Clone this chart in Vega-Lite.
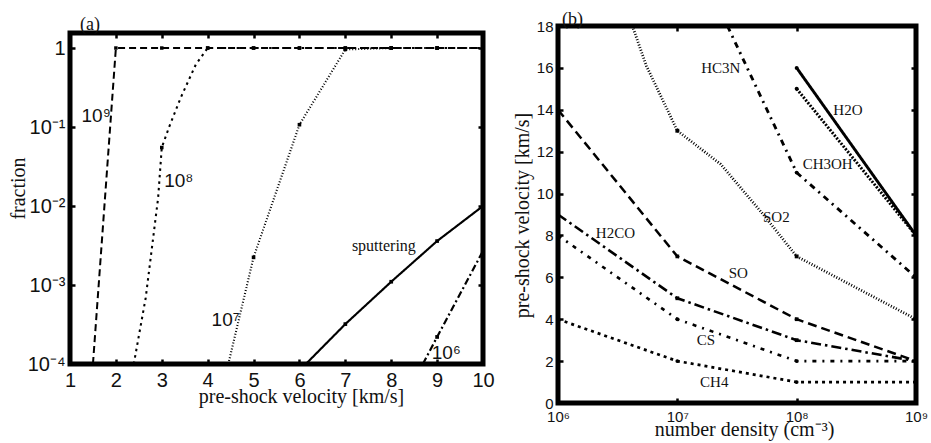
{
  "$schema": "https://vega.github.io/schema/vega-lite/v6.json",
  "padding": {"left": 8, "top": 8, "right": 0, "bottom": 0},
  "spacing": 14,
  "resolve": {"scale": {"strokeDash": "independent", "strokeWidth": "independent", "size": "independent", "shape": "independent"}},
  "config": {
    "view": {"stroke": "#000", "strokeWidth": 5},
    "axis": {"grid": false, "domain": false, "tickColor": "#000", "tickSize": -5, "tickWidth": 2.5, "labelColor": "#111", "titleColor": "#111", "labelFont": "Liberation Sans", "titleFont": "Liberation Serif", "titleFontWeight": "normal", "titleFontSize": 20, "labelFlush": false}
  },
  "datasets": {
    "left": [
      {"s": "1e9", "v": 1.5, "f": 0.0001, "pt": 0},
      {"s": "1e9", "v": 2, "f": 1, "pt": 1},
      {"s": "1e9", "v": 3, "f": 1, "pt": 1},
      {"s": "1e9", "v": 4, "f": 1, "pt": 1},
      {"s": "1e9", "v": 5, "f": 1, "pt": 1},
      {"s": "1e9", "v": 6, "f": 1, "pt": 1},
      {"s": "1e9", "v": 7, "f": 1, "pt": 1},
      {"s": "1e9", "v": 8, "f": 1, "pt": 1},
      {"s": "1e9", "v": 9, "f": 1, "pt": 1},
      {"s": "1e9", "v": 10, "f": 1, "pt": 1},
      {"s": "1e8", "v": 2.39, "f": 0.0001, "pt": 0},
      {"s": "1e8", "v": 2.65, "f": 0.00069, "pt": 0},
      {"s": "1e8", "v": 2.92, "f": 0.0126, "pt": 0},
      {"s": "1e8", "v": 3, "f": 0.055, "pt": 1},
      {"s": "1e8", "v": 3.16, "f": 0.1, "pt": 0},
      {"s": "1e8", "v": 3.41, "f": 0.233, "pt": 0},
      {"s": "1e8", "v": 3.74, "f": 0.615, "pt": 0},
      {"s": "1e8", "v": 4, "f": 1, "pt": 1},
      {"s": "1e8", "v": 5, "f": 1, "pt": 1},
      {"s": "1e8", "v": 6, "f": 1, "pt": 1},
      {"s": "1e8", "v": 7, "f": 1, "pt": 1},
      {"s": "1e8", "v": 8, "f": 1, "pt": 1},
      {"s": "1e8", "v": 9, "f": 1, "pt": 1},
      {"s": "1e8", "v": 10, "f": 1, "pt": 1},
      {"s": "1e7", "v": 4.45, "f": 0.0001, "pt": 0},
      {"s": "1e7", "v": 5, "f": 0.00224, "pt": 1},
      {"s": "1e7", "v": 6, "f": 0.107, "pt": 1},
      {"s": "1e7", "v": 7, "f": 0.96, "pt": 1},
      {"s": "1e7", "v": 8, "f": 1, "pt": 1},
      {"s": "1e7", "v": 9, "f": 1, "pt": 1},
      {"s": "1e7", "v": 10, "f": 1, "pt": 1},
      {"s": "sputtering", "v": 6.14, "f": 0.0001, "pt": 0},
      {"s": "sputtering", "v": 7, "f": 0.00032, "pt": 1},
      {"s": "sputtering", "v": 8, "f": 0.0011, "pt": 1},
      {"s": "sputtering", "v": 9, "f": 0.0036, "pt": 1},
      {"s": "sputtering", "v": 10, "f": 0.01, "pt": 1},
      {"s": "1e6", "v": 8.69, "f": 0.0001, "pt": 0},
      {"s": "1e6", "v": 9, "f": 0.00022, "pt": 1},
      {"s": "1e6", "v": 10, "f": 0.0027, "pt": 1}
    ],
    "labelsL": [
      {"t": "10⁹", "v": 1.57, "f": 0.138, "k": "sans"},
      {"t": "10⁸", "v": 3.37, "f": 0.0205, "k": "sans"},
      {"t": "10⁷", "v": 4.39, "f": 0.00036, "k": "sans"},
      {"t": "10⁶", "v": 9.2, "f": 0.000138, "k": "sans"},
      {"t": "sputtering", "v": 7.84, "f": 0.00309, "k": "serif"}
    ],
    "right": [
      {"s": "SO", "n": 1000000, "v": 14, "pt": 1},
      {"s": "SO", "n": 10000000, "v": 7, "pt": 1},
      {"s": "SO", "n": 100000000, "v": 4, "pt": 1},
      {"s": "SO", "n": 1000000000, "v": 2, "pt": 1},
      {"s": "H2CO", "n": 1000000, "v": 9, "pt": 1},
      {"s": "H2CO", "n": 10000000, "v": 5, "pt": 1},
      {"s": "H2CO", "n": 100000000, "v": 3, "pt": 1},
      {"s": "H2CO", "n": 1000000000, "v": 2, "pt": 1},
      {"s": "CS", "n": 1000000, "v": 8, "pt": 1},
      {"s": "CS", "n": 10000000, "v": 4, "pt": 1},
      {"s": "CS", "n": 100000000, "v": 2, "pt": 1},
      {"s": "CS", "n": 1000000000, "v": 2, "pt": 1},
      {"s": "CH4", "n": 1000000, "v": 4, "pt": 1},
      {"s": "CH4", "n": 10000000, "v": 2, "pt": 1},
      {"s": "CH4", "n": 100000000, "v": 1, "pt": 1},
      {"s": "CH4", "n": 1000000000, "v": 1, "pt": 1},
      {"s": "SO2", "n": 4200000, "v": 18, "pt": 0},
      {"s": "SO2", "n": 5500000, "v": 16.1, "pt": 0},
      {"s": "SO2", "n": 10000000, "v": 13, "pt": 1},
      {"s": "SO2", "n": 23100000, "v": 11.4, "pt": 0},
      {"s": "SO2", "n": 52500000, "v": 9.0, "pt": 0},
      {"s": "SO2", "n": 100000000, "v": 7, "pt": 1},
      {"s": "SO2", "n": 1000000000, "v": 4, "pt": 1},
      {"s": "HC3N", "n": 26300000, "v": 18, "pt": 0},
      {"s": "HC3N", "n": 100000000, "v": 11, "pt": 1},
      {"s": "HC3N", "n": 1000000000, "v": 6, "pt": 1},
      {"s": "H2O", "n": 100000000, "v": 16, "pt": 1},
      {"s": "H2O", "n": 1000000000, "v": 8, "pt": 1},
      {"s": "H2O b", "n": 100000000, "v": 15, "pt": 1},
      {"s": "H2O b", "n": 1000000000, "v": 8, "pt": 1}
    ],
    "labelsR": [
      {"t": "HC3N", "n": 23100000, "v": 16.0},
      {"t": "H2O", "n": 269000000, "v": 14.0},
      {"t": "CH3OH", "n": 182000000, "v": 11.4},
      {"t": "SO2", "n": 67600000, "v": 8.9},
      {"t": "H2CO", "n": 3030000, "v": 8.1},
      {"t": "SO", "n": 32400000, "v": 6.2},
      {"t": "CS", "n": 17400000, "v": 3.0},
      {"t": "CH4", "n": 20400000, "v": 1.0}
    ]
  },
  "hconcat": [
    {
      "width": 413,
      "height": 338,
      "view": {"stroke": null},
      "title": {"text": "(a)", "anchor": "start", "frame": "group", "font": "Liberation Serif", "fontSize": 18, "fontWeight": "normal", "color": "#111", "offset": -7.5, "dx": 10},
      "resolve": {"axis": {"x": "independent", "y": "independent"}},
      "layer": [
        {
          "data": {"name": "left"},
          "mark": {"type": "line", "color": "#000", "clip": true},
          "encoding": {
            "x": {"field": "v", "type": "quantitative", "scale": {"domain": [1, 10], "nice": false, "zero": false},
                  "axis": {"orient": "bottom", "values": [1, 2, 3, 4, 5, 6, 7, 8, 9, 10], "labelFontSize": 20, "labelPadding": 11.5, "title": "pre-shock velocity [km/s]", "titleX": 231, "titleY": 38, "titleBaseline": "alphabetic", "titleAlign": "center"}},
            "y": {"field": "f", "type": "quantitative", "scale": {"type": "log", "domain": [0.0001, 1.9], "nice": false},
                  "axis": {"orient": "left", "values": [0.0001, 0.001, 0.01, 0.1, 1], "labelFontSize": 20, "labelPadding": 10, "labelExpr": "datum.value > 0.5 ? '1' : datum.value > 0.05 ? '10⁻¹' : datum.value > 0.005 ? '10⁻²' : datum.value > 0.0005 ? '10⁻³' : '10⁻⁴'", "title": "fraction", "titleX": -46, "titleY": 162, "titleAngle": 270, "titleBaseline": "alphabetic", "titleAlign": "center"}},
            "detail": {"field": "s"},
            "strokeDash": {"field": "s", "type": "nominal", "scale": {"domain": ["1e9", "1e8", "1e7", "sputtering", "1e6"], "range": [[7, 4], [2.5, 4], [1, 2], [1, 0], [7, 3, 2, 3]]}, "legend": null},
            "strokeWidth": {"field": "s", "type": "nominal", "scale": {"domain": ["1e9", "1e8", "1e7", "sputtering", "1e6"], "range": [2, 2.2, 1.5, 1.6, 2]}, "legend": null}
          }
        },
        {
          "data": {"name": "left"},
          "transform": [{"filter": "datum.pt == 1"}],
          "mark": {"type": "point", "shape": "square", "filled": true, "color": "#000", "opacity": 1, "clip": true},
          "encoding": {
            "x": {"field": "v", "type": "quantitative", "axis": null},
            "y": {"field": "f", "type": "quantitative", "axis": null},
            "size": {"field": "s", "type": "ordinal", "scale": {"domain": ["1e9", "1e8", "1e7", "sputtering", "1e6"], "range": [12, 14, 30, 8, 30]}, "legend": null}
          }
        },
        {
          "data": {"name": "labelsL"},
          "transform": [{"filter": "datum.k == 'sans'"}],
          "mark": {"type": "text", "font": "Liberation Sans", "fontSize": 19, "color": "#111", "align": "center", "baseline": "middle"},
          "encoding": {
            "x": {"field": "v", "type": "quantitative", "axis": null},
            "y": {"field": "f", "type": "quantitative", "axis": null},
            "text": {"field": "t"}
          }
        },
        {
          "data": {"name": "labelsL"},
          "transform": [{"filter": "datum.k == 'serif'"}],
          "mark": {"type": "text", "font": "Liberation Serif", "fontSize": 16, "color": "#111", "align": "center", "baseline": "middle"},
          "encoding": {
            "x": {"field": "v", "type": "quantitative", "axis": null},
            "y": {"field": "f", "type": "quantitative", "axis": null},
            "text": {"field": "t"}
          }
        },
        {
          "data": {"values": [{}]},
          "mark": {"type": "rect", "fillOpacity": 0, "stroke": "#000", "strokeWidth": 5, "clip": false},
          "encoding": {
            "x": {"datum": 1, "type": "quantitative", "axis": null},
            "x2": {"datum": 10},
            "y": {"datum": 0.0001, "type": "quantitative", "axis": null},
            "y2": {"datum": 1.55}
          }
        },
        {
          "data": {"name": "left"},
          "mark": {"type": "point", "opacity": 0},
          "encoding": {
            "x": {"field": "v", "type": "quantitative", "axis": {"orient": "top", "offset": -7, "values": [1, 2, 3, 4, 5, 6, 7, 8, 9, 10], "labels": false, "title": null}},
            "y": {"field": "f", "type": "quantitative", "axis": {"orient": "right", "values": [0.0001, 0.001, 0.01, 0.1, 1], "labels": false, "title": null}}
          }
        }
      ]
    },
    {
      "width": 358,
      "height": 377,
      "title": {"text": "(b)", "anchor": "start", "frame": "group", "font": "Liberation Serif", "fontSize": 18, "fontWeight": "normal", "color": "#111", "offset": -9.5, "dx": 4},
      "resolve": {"axis": {"x": "independent", "y": "independent"}},
      "layer": [
        {
          "data": {"name": "right"},
          "mark": {"type": "line", "color": "#000", "clip": true},
          "encoding": {
            "x": {"field": "n", "type": "quantitative", "scale": {"type": "log", "domain": [1000000, 1000000000], "nice": false},
                  "axis": {"orient": "bottom", "values": [1000000, 10000000, 100000000, 1000000000], "labelFontSize": 15, "labelPadding": 11, "labelExpr": "datum.value < 5000000 ? '10⁶' : datum.value < 50000000 ? '10⁷' : datum.value < 500000000 ? '10⁸' : '10⁹'", "title": "number density (cm⁻³)", "titleX": 186, "titleY": 32, "titleBaseline": "alphabetic", "titleAlign": "center"}},
            "y": {"field": "v", "type": "quantitative", "scale": {"domain": [0, 18], "nice": false, "zero": true},
                  "axis": {"orient": "left", "values": [0, 2, 4, 6, 8, 10, 12, 14, 16, 18], "labelFontSize": 15, "labelPadding": 10, "title": "pre-shock velocity [km/s]", "titleX": -30, "titleY": 189, "titleAngle": 270, "titleBaseline": "alphabetic", "titleAlign": "center"}},
            "detail": {"field": "s"},
            "strokeDash": {"field": "s", "type": "nominal", "scale": {"domain": ["SO", "H2CO", "CS", "CH4", "SO2", "HC3N", "H2O", "H2O b"], "range": [[9, 5], [10, 4, 2.5, 4], [4, 6, 2, 6], [3, 4], [1, 1.8], [6, 5, 2, 5], [1, 0], [2, 1.5]]}, "legend": null},
            "strokeWidth": {"field": "s", "type": "nominal", "scale": {"domain": ["SO", "H2CO", "CS", "CH4", "SO2", "HC3N", "H2O", "H2O b"], "range": [2.5, 3, 2.5, 2.5, 1.6, 2.5, 2.5, 1.5]}, "legend": null}
          }
        },
        {
          "data": {"name": "right"},
          "transform": [{"filter": "datum.pt == 1"}],
          "mark": {"type": "point", "filled": true, "color": "#000", "opacity": 1, "clip": true},
          "encoding": {
            "x": {"field": "n", "type": "quantitative", "axis": null},
            "y": {"field": "v", "type": "quantitative", "axis": null},
            "shape": {"field": "s", "type": "nominal", "scale": {"domain": ["SO", "H2CO", "CS", "CH4", "SO2", "HC3N", "H2O", "H2O b"], "range": ["square", "square", "circle", "circle", "square", "circle", "circle", "circle"]}, "legend": null},
            "size": {"field": "s", "type": "ordinal", "scale": {"domain": ["SO", "H2CO", "CS", "CH4", "SO2", "HC3N", "H2O", "H2O b"], "range": [14, 16, 12, 18, 40, 40, 12, 40]}, "legend": null}
          }
        },
        {
          "data": {"name": "labelsR"},
          "mark": {"type": "text", "font": "Liberation Serif", "fontSize": 15, "color": "#111", "align": "center", "baseline": "middle"},
          "encoding": {
            "x": {"field": "n", "type": "quantitative", "axis": null},
            "y": {"field": "v", "type": "quantitative", "axis": null},
            "text": {"field": "t"}
          }
        },
        {
          "data": {"name": "right"},
          "mark": {"type": "point", "opacity": 0},
          "encoding": {
            "x": {"field": "n", "type": "quantitative", "axis": {"orient": "top", "values": [1000000, 10000000, 100000000, 1000000000], "labels": false, "title": null}},
            "y": {"field": "v", "type": "quantitative", "axis": {"orient": "right", "values": [0, 2, 4, 6, 8, 10, 12, 14, 16, 18], "labels": false, "title": null}}
          }
        }
      ]
    }
  ]
}
